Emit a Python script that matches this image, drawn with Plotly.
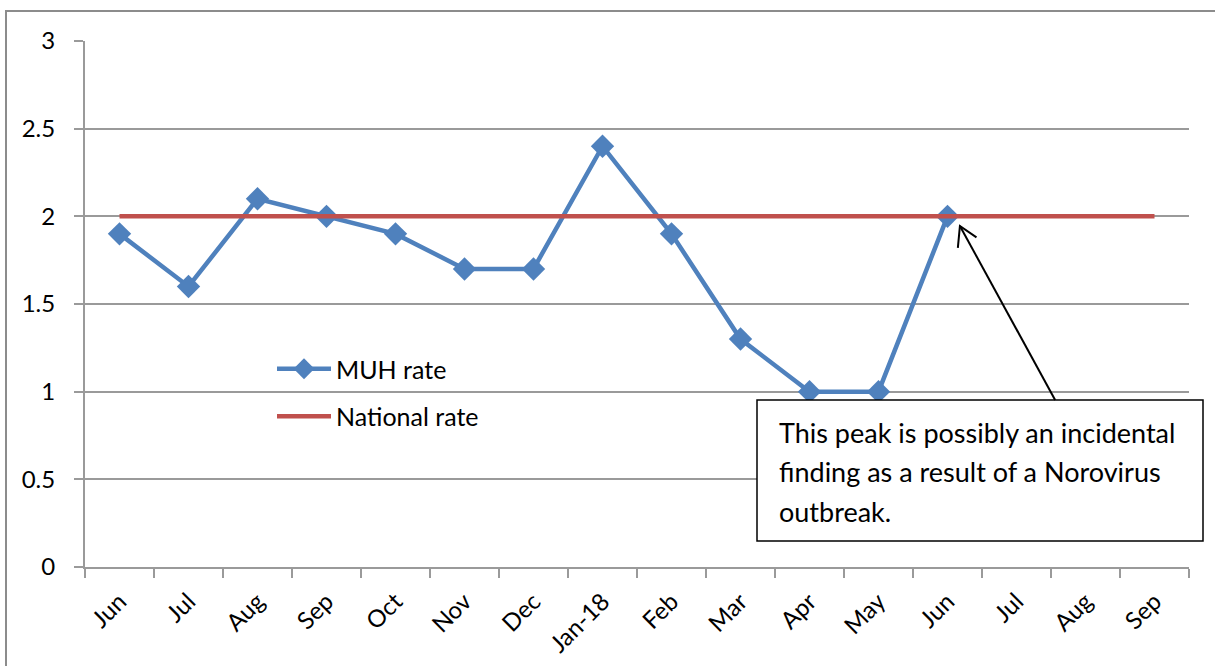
import plotly.graph_objects as go

months = ["Jun", "Jul", "Aug", "Sep", "Oct", "Nov", "Dec", "Jan-18",
          "Feb", "Mar", "Apr", "May", "Jun", "Jul", "Aug", "Sep"]
muh_rate = [1.9, 1.6, 2.1, 2.0, 1.9, 1.7, 1.7, 2.4, 1.9, 1.3, 1.0, 1.0, 2.0, None, None, None]
national_rate = [2, 2, 2, 2, 2, 2, 2, 2, 2, 2, 2, 2, 2, 2, 2, 2]
y_ticks = [0, 0.5, 1, 1.5, 2, 2.5, 3]
y_tick_labels = ["0", "0.5", "1", "1.5", "2", "2.5", "3"]
note_lines = ["This peak is possibly an incidental",
              "finding as a result of a Norovirus",
              "outbreak."]

W, H = 1215, 666
L, R, T, B = 85, 26, 41, 99
PW, PH = W - L - R, H - T - B

def px(xp):
    return (xp - L) / PW

def py(yp):
    return (H - B - yp) / PH

FONT = "Lato"
BLUE = "#4F81BD"
RED = "#C0504D"
GRID = "#9A9A9A"

x_idx = list(range(len(months)))

fig = go.Figure()
fig.add_trace(go.Scatter(
    x=x_idx, y=muh_rate, name="MUH rate", mode="lines+markers",
    line=dict(color=BLUE, width=4.5),
    marker=dict(symbol="diamond", size=18, color=BLUE),
    legendgroup="a", connectgaps=False,
))
fig.add_trace(go.Scatter(
    x=x_idx, y=national_rate, name="National rate", mode="lines",
    line=dict(color=RED, width=4.5), legendgroup="b",
))

fig.update_layout(
    width=W, height=H,
    margin=dict(l=L, r=R, t=T, b=B, pad=0),
    paper_bgcolor="white", plot_bgcolor="white",
    font=dict(family=FONT, size=22, color="black"),
    showlegend=True,
    legend=dict(x=px(272), y=py(346), xanchor="left", yanchor="top",
                bgcolor="rgba(0,0,0,0)", font=dict(size=25, family=FONT),
                traceorder="grouped", tracegroupgap=12, itemwidth=54),
    xaxis=dict(
        range=[-0.5, len(months) - 0.5], automargin=False,
        tickmode="array", tickvals=x_idx, ticktext=months,
        tickangle=-45, ticks="", showgrid=False, zeroline=False,
        showline=True, linecolor=GRID, linewidth=2,
        tickfont=dict(size=24, family=FONT), ticklabelstandoff=9,
        minor=dict(tickmode="linear", tick0=-0.5, dtick=1, ticks="outside",
                   ticklen=9, tickcolor=GRID, tickwidth=2, showgrid=False),
    ),
    yaxis=dict(
        range=[0, 3], automargin=False,
        tickmode="array", tickvals=y_ticks, ticktext=y_tick_labels,
        showgrid=True, gridcolor=GRID, gridwidth=2, zeroline=False,
        showline=True, linecolor=GRID, linewidth=2,
        ticks="outside", ticklen=9, tickcolor=GRID, tickwidth=2,
        tickfont=dict(size=24, family=FONT), ticklabelstandoff=14,
    ),
)

# outer chart-area border (cropped at right and bottom)
fig.add_shape(type="rect", xref="paper", yref="paper",
              x0=px(6), x1=px(1240), y0=py(700), y1=py(11),
              line=dict(color="#8C8C8C", width=2), layer="below")

# note box
fig.add_shape(type="rect", xref="paper", yref="paper",
              x0=px(757), x1=px(1203), y0=py(541), y1=py(400),
              line=dict(color="black", width=1.5), fillcolor="white", layer="above")
for line_txt, yc in zip(note_lines, [432, 471, 511]):
    fig.add_annotation(xref="paper", yref="paper", x=px(777), y=py(yc),
                       xanchor="left", yanchor="middle", showarrow=False,
                       text=line_txt, font=dict(size=27, family=FONT, color="black"))

# arrow from note box to the June peak
tip_x, tip_y = 12.18, 1.945
fig.add_shape(type="line", xref="x", yref="y",
              x0=13.56, y0=0.953, x1=tip_x, y1=tip_y,
              line=dict(color="black", width=2), layer="above")
fig.add_shape(type="path", xref="x", yref="y",
              path=f"M 12.15,1.82 L {tip_x},{tip_y} L 12.42,1.88",
              line=dict(color="black", width=2), layer="above")

fig.write_html("out.html", config={"displayModeBar": False},
               post_script="document.body.style.margin='0';")
